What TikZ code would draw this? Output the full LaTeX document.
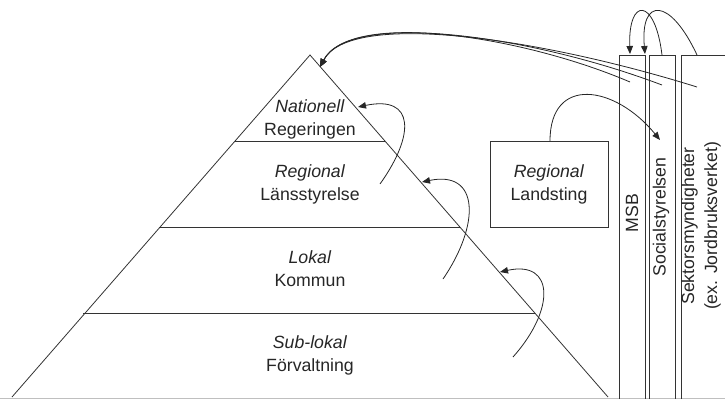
\documentclass[tikz,border=0pt]{standalone}
\usepackage{fontspec}
\setmainfont{Liberation Sans}
\usetikzlibrary{arrows.meta}
\begin{document}
\begin{tikzpicture}[x=1pt,y=-1pt,
  ln/.style={draw=black!80,line width=0.8pt},
  arr/.style={draw=black!85,line width=0.8pt,-{Triangle[length=8pt,width=6.5pt]}},
  lbl/.style={align=center,inner sep=0pt,font=\fontsize{17.7}{23}\selectfont,text=black!85},
  vlbl/.style={lbl,rotate=90}]
\useasboundingbox (0,0) rectangle (725,399);
% pyramid
\coordinate (apex) at (310,55);
\coordinate (bl) at (12,397);
\coordinate (br) at (608,397);
\draw[ln] (bl) -- (apex) -- (br);
\draw[ln] (235,141) -- (385,141);
\draw[ln] (159,227) -- (460,227);
\draw[ln] (83,313) -- (535,313);
\draw[black!25,line width=0.8pt] (0,398) -- (725,398);
% pyramid labels
\node[lbl] (nat) at (310,119) {\textit{Nationell}\\Regeringen};
\node[lbl] (reg) at (310,184) {\textit{Regional}\\Länsstyrelse};
\node[lbl] (lok) at (310,269) {\textit{Lokal}\\Kommun};
\node[lbl] (sub) at (310,355) {\textit{Sub-lokal}\\Förvaltning};
% Landsting box
\node[ln,minimum width=118pt,minimum height=86pt,inner sep=0pt] (land) at (549,184) {};
\node[lbl] (landt) at (land.center) {\textit{Regional}\\Landsting};
% authority boxes
\draw[ln] (619,399) -- (619,55) -- (645,55) -- (645,399);
\draw[ln] (649,399) -- (649,55) -- (675,55) -- (675,399);
\draw[ln] (681,399) -- (681,55) -- (726,55);
\node[vlbl] (msb) at (632,213) {MSB};
\node[vlbl] (soc) at (661,217) {Socialstyrelsen};
\node[vlbl] (sek) at (701,226) {Sektorsmyndigheter\\(ex. Jordbruksverket)};
% connector anchor points
\coordinate (tipA) at (320,67);
\coordinate (s1) at (630,82);
\coordinate (s2) at (662,85);
\coordinate (s3) at (697,87);
\draw[arr] (s1) .. controls (520,35) and (350,10) .. (tipA);
\draw[arr] (s2) .. controls (530,35) and (350,10) .. (tipA);
\draw[arr] (s3) .. controls (540,38) and (350,10) .. (tipA);
% top arcs
\coordinate (socTop) at (662,55);
\coordinate (sekTop) at (697,55);
\coordinate (msbA) at (630,54);
\coordinate (msbB) at (645,54);
\draw[arr] (socTop) .. controls (655,-3) and (628,-3) .. (msbA);
\draw[arr] (sekTop) .. controls (670,-3) and (640,-3) .. (msbB);
% Landsting arc
\coordinate (landTop) at (550,141);
\coordinate (socIn) at (660,140);
\draw[arr] (landTop) .. controls (550,75) and (615,85) .. (socIn);
% self arcs in pyramid
\coordinate (n1) at (380,184); \coordinate (n2) at (358,107);
\coordinate (r1) at (443,279); \coordinate (r2) at (422,182);
\coordinate (l1) at (513,357); \coordinate (l2) at (500,272);
\draw[arr] (n1) .. controls (415,135) and (415,95) .. (n2);
\draw[arr] (r1) .. controls (480,225) and (480,170) .. (r2);
\draw[arr] (l1) .. controls (555,310) and (555,260) .. (l2);
\end{tikzpicture}
\end{document}
